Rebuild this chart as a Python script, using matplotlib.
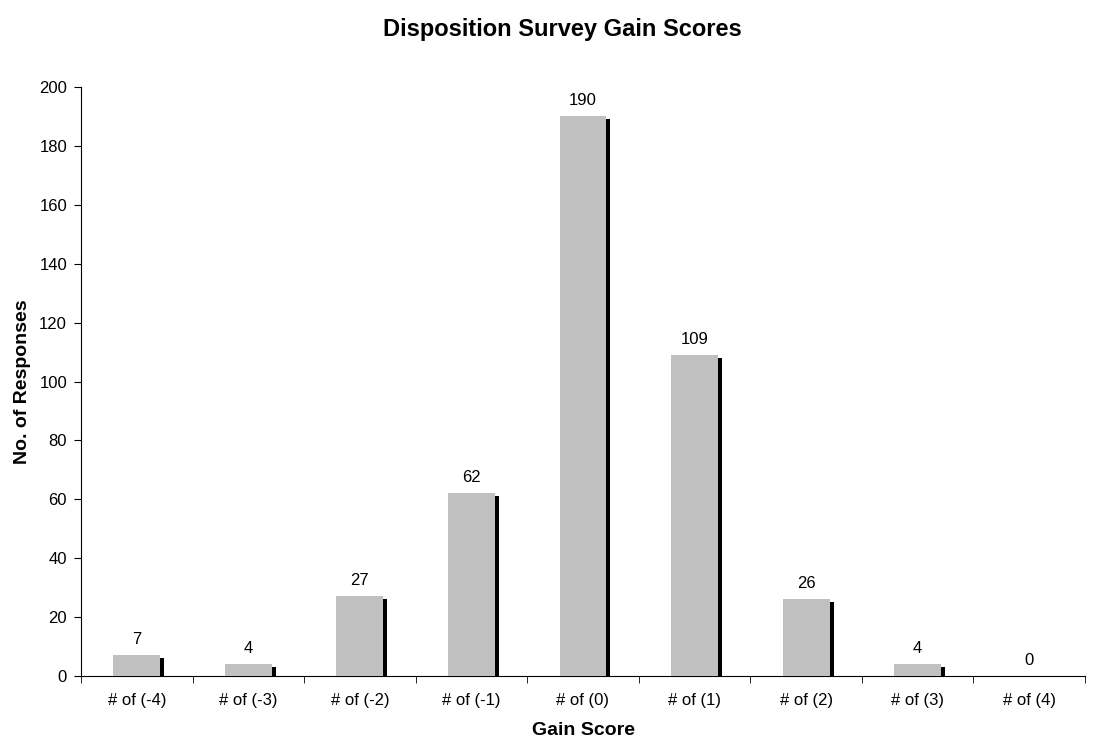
import matplotlib
matplotlib.use("Agg")
import matplotlib.pyplot as plt
import matplotlib.transforms as mtransforms
import numpy as np

plt.rcParams['font.family'] = ['Liberation Sans', 'DejaVu Sans']

categories = ["# of (-4)", "# of (-3)", "# of (-2)", "# of (-1)", "# of (0)",
              "# of (1)", "# of (2)", "# of (3)", "# of (4)"]
values = [7, 4, 27, 62, 190, 109, 26, 4, 0]

fig = plt.figure(figsize=(11.12, 7.44), dpi=100)
ax = fig.add_axes([81/1112, 68/744, (1085-81)/1112, (676-87)/744])

x = np.arange(len(categories))
width = 0.42

shadow_tr = ax.transData + mtransforms.ScaledTranslation(4/100, -3/100, fig.dpi_scale_trans)
ax.bar(x, values, width=width, color='black', transform=shadow_tr, zorder=2)
ax.bar(x, values, width=width, color='#c0c0c0', zorder=3)

for xi, v in zip(x, values):
    ax.annotate(str(v), (xi, v), xytext=(0, 6), textcoords='offset points',
                ha='center', va='bottom', fontsize=12)

ax.set_xlim(-0.5, len(categories) - 0.5)
ax.set_ylim(0, 200)
ax.set_yticks(np.arange(0, 201, 20))
ax.set_xticks(x)
ax.set_xticklabels(categories, fontsize=12)
ax.set_xticks(np.arange(-0.5, len(categories)), minor=True)
ax.tick_params(axis='x', which='major', length=0, pad=12)
ax.tick_params(axis='x', which='minor', length=5, direction='out')
ax.tick_params(axis='y', labelsize=12, length=5, direction='out', pad=5)
for s in ['top', 'right']:
    ax.spines[s].set_visible(False)

ax.set_xlabel('Gain Score', fontsize=14, fontweight='bold', labelpad=10)
ax.set_ylabel('No. of Responses', fontsize=14, fontweight='bold', labelpad=6)
fig.text(0.506, 1 - 36/744, 'Disposition Survey Gain Scores', fontsize=17,
         fontweight='bold', ha='center', va='baseline')

fig.savefig('out.png', dpi=100)
